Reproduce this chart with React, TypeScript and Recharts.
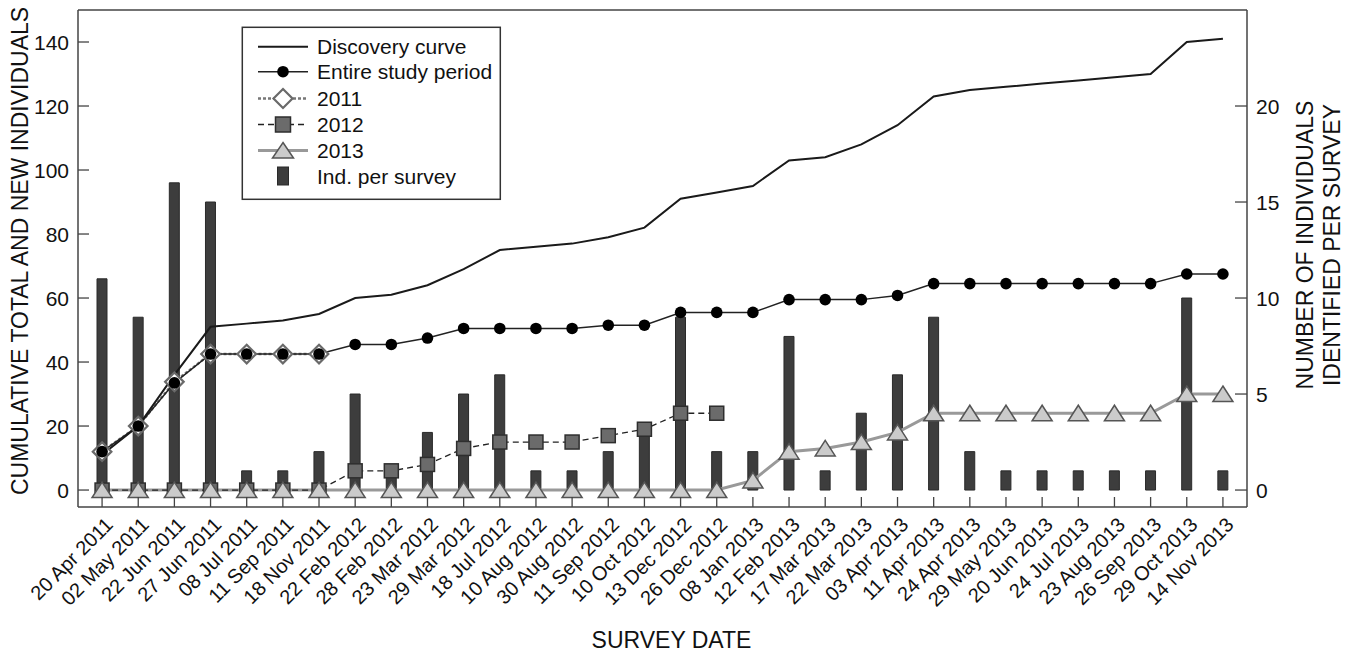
import React from "react";
import { ComposedChart, Bar, Line, XAxis, YAxis, ReferenceLine } from "recharts";

const dates = [
  "20 Apr 2011", "02 May 2011", "22 Jun 2011", "27 Jun 2011", "08 Jul 2011", "11 Sep 2011",
  "18 Nov 2011", "22 Feb 2012", "28 Feb 2012", "23 Mar 2012", "29 Mar 2012", "18 Jul 2012",
  "10 Aug 2012", "30 Aug 2012", "11 Sep 2012", "10 Oct 2012", "13 Dec 2012", "26 Dec 2012",
  "08 Jan 2013", "12 Feb 2013", "17 Mar 2013", "22 Mar 2013", "03 Apr 2013", "11 Apr 2013",
  "24 Apr 2013", "29 May 2013", "20 Jun 2013", "24 Jul 2013", "23 Aug 2013", "26 Sep 2013",
  "29 Oct 2013", "14 Nov 2013",
];
const perSurvey = [11, 9, 16, 15, 1, 1, 2, 5, 1, 3, 5, 6, 1, 1, 2, 3, 9, 2, 2, 8, 1, 4, 6, 9, 2, 1, 1, 1, 1, 1, 10, 1];
const discovery = [11, 20, 36, 51, 52, 53, 55, 60, 61, 64, 69, 75, 76, 77, 79, 82, 91, 93, 95, 103, 104, 108, 114, 123, 125, 126, 127, 128, 129, 130, 140, 141];
const entirePeriod = [12, 20, 33.5, 42.5, 42.5, 42.5, 42.5, 45.5, 45.5, 47.5, 50.5, 50.5, 50.5, 50.5, 51.5, 51.5, 55.5, 55.5, 55.5, 59.5, 59.5, 59.5, 60.8, 64.5, 64.5, 64.5, 64.5, 64.5, 64.5, 64.5, 67.5, 67.5];
const y2011 = [12, 20, 33.8, 42.5, 42.5, 42.5, 42.5];
const y2012 = [0, 0, 0, 0, 0, 0, 0, 6, 6, 8, 13, 15, 15, 15, 17, 19, 24, 24];
const y2013 = [0, 0, 0, 0, 0, 0, 0, 0, 0, 0, 0, 0, 0, 0, 0, 0, 0, 0, 3, 12, 13, 15, 18, 24, 24, 24, 24, 24, 24, 24, 30, 30];

const leftTicks = [0, 20, 40, 60, 80, 100, 120, 140];
const rightTicks = [0, 5, 10, 15, 20];

const data = dates.map((d, i) => ({
  date: d,
  perSurvey: perSurvey[i],
  discovery: discovery[i],
  entire: entirePeriod[i],
  y2011: i < y2011.length ? y2011[i] : null,
  y2012: i < y2012.length ? y2012[i] : null,
  y2013: y2013[i],
}));

const FONT = '"Liberation Sans", Arial, Helvetica, sans-serif';
const AXIS = "#444";
const INK = "#111";

function LeftTick({ x, y, payload }: any) {
  return (
    <g>
      <line x1={x} x2={x + 11} y1={y} y2={y} stroke={AXIS} strokeWidth={1.3} />
      <text x={x - 9} y={y} dy={7.5} textAnchor="end" fontSize={21} fill={INK} fontFamily={FONT}>
        {payload.value}
      </text>
    </g>
  );
}

function RightTick({ x, y, payload }: any) {
  return (
    <g>
      <line x1={x - 12} x2={x} y1={y} y2={y} stroke={AXIS} strokeWidth={1.3} />
      <text x={x + 9} y={y} dy={7.5} textAnchor="start" fontSize={21} fill={INK} fontFamily={FONT}>
        {payload.value}
      </text>
    </g>
  );
}

function DateTick({ x, y, payload }: any) {
  const tx = x + 12;
  const ty = y + 19;
  return (
    <g>
      <line x1={x} x2={x} y1={y} y2={y - 10} stroke={AXIS} strokeWidth={1.3} />
      <text x={tx} y={ty} textAnchor="end" fontSize={20} fill={INK} fontFamily={FONT} transform={`rotate(-45, ${tx}, ${ty})`}>
        {payload.value}
      </text>
    </g>
  );
}

const circleDot = (p: any) =>
  p.cy == null ? <g key={`c${p.index}`} /> : <circle key={`c${p.index}`} cx={p.cx} cy={p.cy} r={5.8} fill="#000" />;

const diamondDot = (p: any) =>
  p.cy == null ? (
    <g key={`d${p.index}`} />
  ) : (
    <path
      key={`d${p.index}`}
      d={`M${p.cx},${p.cy - 9.3}L${p.cx + 9.3},${p.cy}L${p.cx},${p.cy + 9.3}L${p.cx - 9.3},${p.cy}Z`}
      fill="#fff"
      stroke="#6a6a6a"
      strokeWidth={2.2}
    />
  );

const squareDot = (p: any) =>
  p.cy == null ? (
    <g key={`s${p.index}`} />
  ) : (
    <rect key={`s${p.index}`} x={p.cx - 7} y={p.cy - 7} width={14} height={14} fill="#6b6b6b" stroke="#2e2e2e" strokeWidth={1.5} />
  );

const triangleDot = (p: any) =>
  p.cy == null ? (
    <g key={`t${p.index}`} />
  ) : (
    <path
      key={`t${p.index}`}
      d={`M${p.cx},${p.cy - 8}L${p.cx + 10},${p.cy + 7.5}L${p.cx - 10},${p.cy + 7.5}Z`}
      fill="#cbcbcb"
      stroke="#555"
      strokeWidth={1.5}
    />
  );

function LegendBox() {
  const rows = [46.7, 71.7, 98.5, 124.5, 150.5, 176];
  const lx1 = 258;
  const lx2 = 308;
  const mx = 283;
  const tx = 317;
  const labels = ["Discovery curve", "Entire study period", "2011", "2012", "2013", "Ind. per survey"];
  return (
    <svg width={1352} height={652} style={{ position: "absolute", left: 0, top: 0, pointerEvents: "none" }}>
      <rect x={242.3} y={27.3} width={258} height={172} fill="#fff" stroke="#333" strokeWidth={1.5} />
      <line x1={lx1} x2={lx2} y1={rows[0]} y2={rows[0]} stroke="#1a1a1a" strokeWidth={2} />
      <line x1={lx1} x2={lx2} y1={rows[1]} y2={rows[1]} stroke="#222" strokeWidth={1.5} />
      <circle cx={mx} cy={rows[1]} r={5.8} fill="#000" />
      <line x1={lx1} x2={lx2} y1={rows[2]} y2={rows[2]} stroke="#777" strokeWidth={2.5} strokeDasharray="3 2" />
      <path d={`M${mx},${rows[2] - 9.5}L${mx + 9.5},${rows[2]}L${mx},${rows[2] + 9.5}L${mx - 9.5},${rows[2]}Z`} fill="#fff" stroke="#6a6a6a" strokeWidth={2.2} />
      <line x1={lx1} x2={lx2} y1={rows[3]} y2={rows[3]} stroke="#222" strokeWidth={1.3} strokeDasharray="6 4" />
      <rect x={mx - 7.5} y={rows[3] - 7.5} width={15} height={15} fill="#6b6b6b" stroke="#2e2e2e" strokeWidth={1.5} />
      <line x1={lx1} x2={lx2} y1={rows[4]} y2={rows[4]} stroke="#999" strokeWidth={3} />
      <path d={`M${mx},${rows[4] - 8}L${mx + 10.5},${rows[4] + 7.5}L${mx - 10.5},${rows[4] + 7.5}Z`} fill="#cbcbcb" stroke="#555" strokeWidth={1.5} />
      <rect x={mx - 5.5} y={rows[5] - 9} width={11} height={18} fill="#3d3d3d" stroke="#2a2a2a" strokeWidth={1} />
      {labels.map((l, i) => (
        <text key={l} x={tx} y={rows[i]} dy={7.5} fontSize={21} fill={INK} fontFamily={FONT}>
          {l}
        </text>
      ))}
    </svg>
  );
}

export default function App() {
  return (
    <div style={{ position: "relative", width: 1352, height: 652, fontFamily: FONT }}>
      <style>{`body{margin:0}`}</style>
      <ComposedChart width={1352} height={652} data={data} margin={{ top: 10, right: 0, bottom: 0, left: 0 }}>
        <XAxis
          dataKey="date"
          interval={0}
          height={145}
          padding={{ left: 6, right: 6 }}
          axisLine={{ stroke: AXIS, strokeWidth: 1.5 }}
          tickLine={false}
          tickSize={0}
          tickMargin={0}
          tick={<DateTick />}
          label={({ viewBox }: any) => (
            <text x={viewBox.x + viewBox.width / 2 + 9} y={648} textAnchor="middle" fontSize={23} fill={INK} fontFamily={FONT}>
              SURVEY DATE
            </text>
          )}
        />
        <YAxis
          yAxisId="left"
          width={78}
          domain={[-5.3, 150]}
          ticks={leftTicks}
          allowDataOverflow
          axisLine={{ stroke: AXIS, strokeWidth: 1.5 }}
          tickLine={false}
          tickSize={0}
          tickMargin={0}
          tick={<LeftTick />}
          label={({ viewBox }: any) => (
            <text x={28} y={251} textAnchor="middle" fontSize={23} fill={INK} fontFamily={FONT} transform="rotate(-90, 28, 251)">
              CUMULATIVE TOTAL AND NEW INDIVIDUALS
            </text>
          )}
        />
        <YAxis
          yAxisId="right"
          orientation="right"
          width={105}
          domain={[-5.3 / 6, 25]}
          ticks={rightTicks}
          allowDataOverflow
          axisLine={{ stroke: AXIS, strokeWidth: 1.5 }}
          tickLine={false}
          tickSize={0}
          tickMargin={0}
          tick={<RightTick />}
          label={({ viewBox }: any) => {
            const bx = viewBox.x + 66;
            const cy = 245;
            return (
              <g>
                <text x={bx} y={cy} textAnchor="middle" fontSize={23} fill={INK} fontFamily={FONT} transform={`rotate(-90, ${bx}, ${cy})`}>
                  NUMBER OF INDIVIDUALS
                </text>
                <text x={bx + 27} y={cy} textAnchor="middle" fontSize={23} fill={INK} fontFamily={FONT} transform={`rotate(-90, ${bx + 27}, ${cy})`}>
                  IDENTIFIED PER SURVEY
                </text>
              </g>
            );
          }}
        />
        <ReferenceLine yAxisId="left" y={150} stroke={AXIS} strokeWidth={1.5} />
        <Bar yAxisId="right" dataKey="perSurvey" barSize={10} fill="#3d3d3d" stroke="#2a2a2a" strokeWidth={1} isAnimationActive={false} />
        <Line yAxisId="left" dataKey="y2013" stroke="#999" strokeWidth={3} dot={false} activeDot={false} isAnimationActive={false} />
        <Line yAxisId="left" dataKey="y2012" stroke="#222" strokeWidth={1.3} strokeDasharray="6 4" dot={squareDot} activeDot={false} isAnimationActive={false} />
        <Line yAxisId="left" dataKey="y2013" stroke="none" dot={triangleDot} activeDot={false} isAnimationActive={false} />
        <Line yAxisId="left" dataKey="y2011" stroke="#777" strokeWidth={2.5} strokeDasharray="3 2" dot={diamondDot} activeDot={false} isAnimationActive={false} />
        <Line yAxisId="left" dataKey="entire" stroke="#222" strokeWidth={1.5} dot={circleDot} activeDot={false} isAnimationActive={false} />
        <Line yAxisId="left" dataKey="discovery" stroke="#1a1a1a" strokeWidth={2} dot={false} activeDot={false} isAnimationActive={false} />
      </ComposedChart>
      <LegendBox />
    </div>
  );
}
